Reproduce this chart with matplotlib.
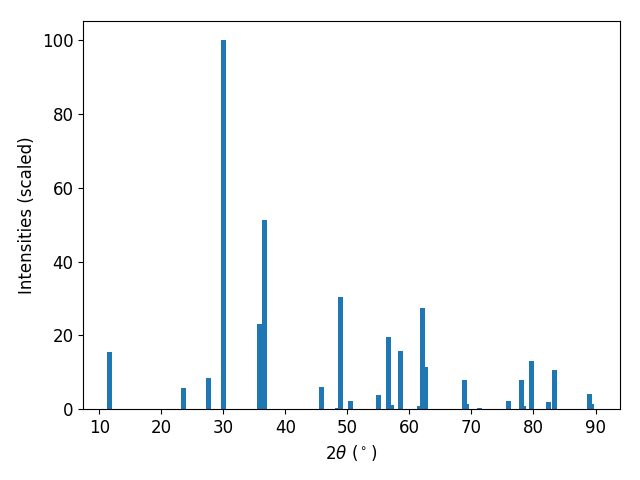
import matplotlib
matplotlib.use("Agg")
import matplotlib.pyplot as plt

# 2theta peak positions (degrees) and scaled intensities
two_theta = [11.65, 23.55, 27.62, 30.05, 35.87, 36.72, 45.86, 48.47, 48.92,
             50.53, 55.05, 56.66, 57.12, 58.57, 61.67, 62.15, 62.63, 68.92,
             69.25, 71.34, 76.02, 78.12, 78.45, 79.73, 82.47, 83.45, 89.07,
             89.40]
intensity = [15.5, 5.7, 8.4, 100.0, 23.1, 51.2, 6.0, 0.3, 30.4,
             2.4, 3.8, 19.6, 1.1, 15.8, 0.8, 27.4, 11.4, 7.9,
             1.6, 0.3, 2.2, 7.9, 0.8, 13.0, 1.9, 10.6, 4.3,
             1.6]

plt.rcParams["font.size"] = 12

fig, ax = plt.subplots(figsize=(6.4, 4.8), dpi=100)
ax.bar(two_theta, intensity, width=0.8, color="C0")
ax.set_xlabel(r"$2\theta$ ($^\circ$)")
ax.set_ylabel("Intensities (scaled)")
ax.set_xticks([10, 20, 30, 40, 50, 60, 70, 80, 90])
ax.set_xlim(7.42, 93.87)
ax.set_ylim(0, 105)
fig.subplots_adjust(left=0.130, right=0.968, top=0.956, bottom=0.147)
fig.savefig("out.png")
